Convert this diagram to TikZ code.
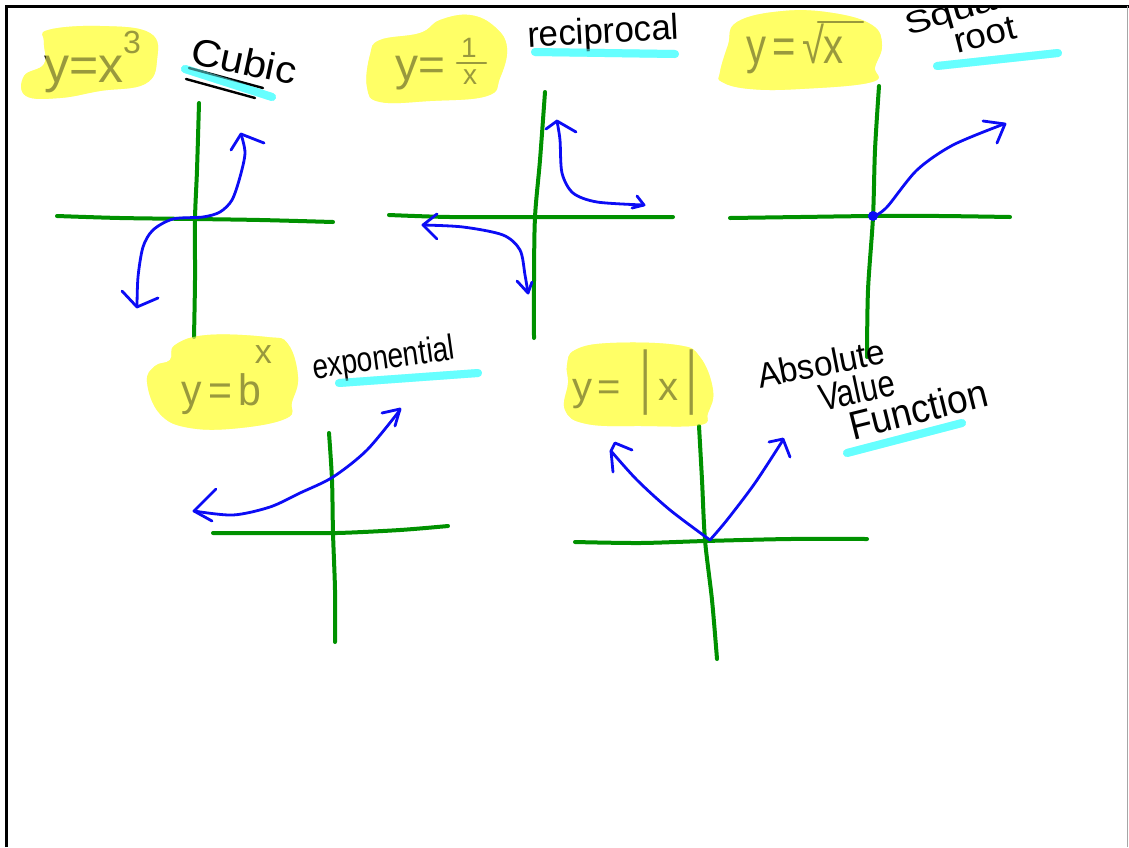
\documentclass[tikz,border=0pt]{standalone}
\usepackage{fontspec}
\setmainfont{Liberation Sans}
\usepackage{graphicx}
\definecolor{hlyellow}{RGB}{255,255,102}
\definecolor{hlcyan}{RGB}{102,255,255}
\definecolor{axisgreen}{RGB}{0,145,0}
\definecolor{curveblue}{RGB}{12,12,245}
\newcommand{\handw}[3]{\scalebox{#1}[1]{\fontsize{#2}{#2}\selectfont #3}}
\tikzset{
  axisline/.style={axisgreen, line width=4pt, line cap=round, line join=round},
  graphcurve/.style={curveblue, line width=2.8pt, line cap=round, line join=round},
  arrowwing/.style={curveblue, line width=2.8pt, line cap=round, line join=round},
  hlfull/.style={fill=hlyellow},
  hlover/.style={fill=hlyellow, fill opacity=0.6},
  marker/.style={hlcyan, line width=8pt, line cap=round},
  markerover/.style={hlcyan, line width=8pt, line cap=round, draw opacity=0.5},
  ink/.style={inner sep=0pt, outer sep=0pt, text=black},
  penline/.style={black, line width=2.4pt, line cap=round},
}
\begin{document}
\begin{tikzpicture}[x=1pt,y=-1pt]
\useasboundingbox (0,0) rectangle (1129,847);
\fill[white] (0,0) rectangle (1129,847);
\begin{scope}
\clip (7,8) rectangle (1126,847);

% ---------- highlight shapes (under text)
\def\hlA{(48,30) (100,26) (150,33) (157,60) (145,84) (100,91) (60,98) (26,96) (24,76) (44,64) (44,42)}
\def\hlB{(380,40) (420,33) (440,20) (470,15) (495,27) (507,48) (500,78) (487,96) (430,101) (380,102) (367,87) (370,55)}
\def\hlC{(737,22) (783,11) (833,13) (872,25) (882,45) (875,67) (872,82) (800,89) (750,89) (722,82) (720,72) (728,45)}
\def\hlD{(175,345) (207,335) (267,337) (288,344) (298,377) (292,402) (287,418) (240,428) (190,428) (160,414) (147,382) (155,366) (170,360)}
\def\hlE{(575,350) (610,343) (677,345) (700,357) (713,390) (708,413) (700,425) (643,426) (587,424) (565,410) (568,383) (567,365)}
\foreach \s in {\hlA,\hlB,\hlC,\hlD,\hlE}{
  \path[hlfull] plot[smooth cycle, tension=0.7] coordinates {\s};
}

% ---------- cyan markers
\coordinate (m1a) at (185,69);  \coordinate (m1b) at (272,97);
\coordinate (m2a) at (535,52);  \coordinate (m2b) at (675,54);
\coordinate (m3a) at (937,66);  \coordinate (m3b) at (1058,53);
\coordinate (m4a) at (339,383); \coordinate (m4b) at (478,373);
\coordinate (m5a) at (847,453); \coordinate (m5b) at (962,423);
\draw[marker] (m1a) -- (m1b);
\draw[marker] (m2a) -- (m2b);
\draw[marker] (m3a) -- (m3b);
\draw[marker] (m4a) -- (m4b);
\draw[marker] (m5a) -- (m5b);

% ---------- axes
\draw[axisline] plot[smooth] coordinates {(199,103) (197,170) (195,219) (195,280) (194,337)};
\draw[axisline] plot[smooth] coordinates {(57,216) (120,218) (195,219) (260,220) (333,222)};
\draw[axisline] plot[smooth] coordinates {(545,92) (540,160) (535,217) (534,280) (534,338)};
\draw[axisline] plot[smooth] coordinates {(389,215) (450,217) (535,217) (600,217) (673,217)};
\draw[axisline] plot[smooth] coordinates {(879,86) (875,150) (873,217) (868,290) (867,357)};
\draw[axisline] plot[smooth] coordinates {(730,218) (800,217) (873,216) (940,216) (1010,217)};
\draw[axisline] plot[smooth] coordinates {(329,433) (332,480) (333,533) (335,590) (335,642)};
\draw[axisline] plot[smooth] coordinates {(213,533) (280,533) (337,533) (400,530) (448,526)};
\draw[axisline] plot[smooth] coordinates {(699,426) (702,480) (705,540) (712,600) (717,659)};
\draw[axisline] plot[smooth] coordinates {(575,542) (640,543) (705,541) (790,539) (867,539)};

% ---------- graph 1: cubic
\draw[graphcurve] plot[smooth] coordinates {(241,134) (245,153) (240,177) (232,200) (220,212) (203,217) (173,219) (153,230) (143,247) (138,277) (137,307)};
\draw[arrowwing] (231,150) -- (241,134) -- (264,143);
\draw[arrowwing] (122,291) -- (137,307) -- (158,298);

% ---------- graph 2: reciprocal
\draw[graphcurve] plot[smooth] coordinates {(557,121) (560,140) (562,173) (573,193) (597,202) (644,205)};
\draw[arrowwing] (546,129) -- (557,121) -- (576,132);
\draw[arrowwing] (637,196) -- (644,205) -- (632,208);
\draw[graphcurve] plot[smooth] coordinates {(423,225) (463,227) (503,235) (520,250) (525,275) (528,293)};
\draw[arrowwing] (437,214) -- (423,225) -- (437,239);
\draw[arrowwing] (517,281) -- (528,293) -- (532,282);

% ---------- graph 3: square root
\fill[curveblue] (873,216) circle (5);
\draw[graphcurve] plot[smooth] coordinates {(873,217) (887,207) (917,170) (953,145) (1004,124)};
\draw[arrowwing] (983,121) -- (1005,124) -- (997,143);

% ---------- graph 4: exponential
\draw[graphcurve] plot[smooth] coordinates {(194,511) (233,515) (270,507) (300,493) (333,477) (367,450) (400,410)};
\draw[arrowwing] (216,489) -- (194,511) -- (212,521);
\draw[arrowwing] (382,413) -- (400,409) -- (395,426);

% ---------- graph 5: absolute value
\draw[graphcurve] plot[smooth] coordinates {(611,451) (637,480) (670,510) (710,540)};
\draw[graphcurve] plot[smooth] coordinates {(710,540) (727,520) (755,483) (783,440)};
\draw[arrowwing] (632,450) -- (615,443) -- (611,451) -- (613,472);
\draw[arrowwing] (769,442) -- (783,439) -- (790,457);

% ---------- Cubic underlines
\draw[penline] (189,68) -- (263,88);
\draw[penline] (186,79) -- (255,98);

% ---------- equations (black, toned by highlight overlay)
\node[ink, anchor=base west] (eq1) at (44,82)
  {\fontsize{50}{50}\selectfont y=x\raisebox{29pt}{\fontsize{32}{32}\selectfont 3}};
\node[ink, anchor=base west] (eq2) at (395,80) {\fontsize{46}{46}\selectfont y=};
\node[ink, anchor=base] (eq2n) at (469,57) {\fontsize{28}{28}\selectfont 1};
\draw[penline] (457,63) -- (486,63);
\node[ink, anchor=base] (eq2d) at (470,84) {\fontsize{28}{28}\selectfont x};
\node[ink, anchor=base west] (eq3) at (746,63) {\handw{0.8}{50}{y\,=\,√\kern-2pt x}};
\draw[penline] (818,22) -- (863,22);
\node[ink, anchor=base west] (eq4) at (181,405)
  {\handw{0.93}{44}{y\,=\,b}\kern-7pt\raisebox{42pt}{\fontsize{34}{34}\selectfont x}};
\node[ink, anchor=base west] (eq5) at (572,400)
  {\fontsize{40}{40}\selectfont y\kern5pt=\kern20pt\scalebox{1}[1.75]{|}\kern8pt x\kern8pt\scalebox{1}[1.75]{|}};

% ---------- labels
\node[ink, anchor=base west, rotate=-12] (lab1) at (189,63) {\handw{1.1}{38}{Cubic}};
\node[ink, anchor=base west, rotate=3] (lab2) at (528,47) {\handw{0.97}{36}{reciprocal}};
\node[ink, anchor=base west, rotate=16] (lab3a) at (908,35) {\handw{1.3}{31}{Square}};
\node[ink, anchor=base west, rotate=14] (lab3b) at (957,53) {\handw{1.05}{35}{root}};
\node[ink, anchor=base west, rotate=8] (lab4) at (314,379) {\handw{0.8}{35}{exponential}};
\node[ink, anchor=base west, rotate=11] (lab5a) at (760,388) {\handw{0.95}{35}{Absolute}};
\node[ink, anchor=base west, rotate=12] (lab5b) at (822,411) {\handw{0.81}{38}{Value}};
\node[ink, anchor=base west, rotate=14] (lab5c) at (853,440) {\handw{0.92}{40}{Function}};

% ---------- highlight overlays
\foreach \s in {\hlA,\hlB,\hlC,\hlD,\hlE}{
  \path[hlover] plot[smooth cycle, tension=0.7] coordinates {\s};
}
\draw[markerover] (m1a) -- (m1b);
\draw[markerover] (m2a) -- (m2b);
\draw[markerover] (m3a) -- (m3b);
\draw[markerover] (m4a) -- (m4b);
\draw[markerover] (m5a) -- (m5b);
\end{scope}

% ---------- frame
\draw[black, line width=3pt] (6,847) -- (6,6) -- (1129,6);
\draw[black!35, line width=1pt] (1127.5,6) -- (1127.5,847);
\end{tikzpicture}
\end{document}
